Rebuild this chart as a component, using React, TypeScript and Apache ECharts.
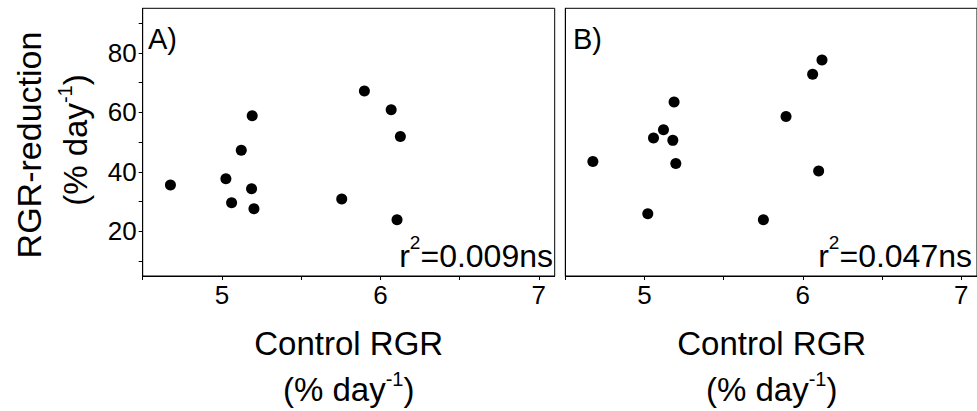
import React, { useEffect, useRef } from 'react';
import * as echarts from 'echarts';

const panelLabels = ['A)', 'B)'];
const r2Values = ['0.009ns', '0.047ns'];
const xTickValues = [4.5, 5, 5.5, 6, 6.5, 7];
const xLabelValues = [5, 6, 7];
const yTickValues = [10, 20, 30, 40, 50, 60, 70, 80, 90];
const yLabelValues = [20, 40, 60, 80];

const controlA = [4.675, 5.025, 5.061, 5.122, 5.191, 5.187, 5.202, 5.756, 5.899, 6.068, 6.126, 6.105];
const reductionA = [35.6, 37.7, 29.6, 47.3, 58.9, 34.3, 27.6, 30.9, 67.2, 60.9, 51.9, 23.9];
const controlB = [4.674, 5.057, 5.12, 5.179, 5.187, 5.198, 5.021, 5.751, 5.894, 6.062, 6.121, 6.1];
const reductionB = [43.5, 51.4, 54.2, 50.6, 63.5, 42.8, 25.9, 23.9, 58.6, 72.8, 77.6, 40.3];

const FONT = '"Liberation Sans", Arial, sans-serif';

export default function App() {
  const ref = useRef<HTMLDivElement>(null);
  useEffect(() => {
    if (!ref.current) return;
    const chart = echarts.init(ref.current, null, { renderer: 'svg' });
    const grids = [
      { left: 142.7, top: 8.3, width: 412, height: 267.7 },
      { left: 565.3, top: 8.3, width: 412.7, height: 267.7 },
    ];
    const xAxis = [0, 1].map((i) => ({
      type: 'value',
      gridIndex: i,
      min: 4.5,
      max: 7.1,
      splitLine: { show: false },
      axisLine: { show: true, onZero: false, lineStyle: { color: '#000', width: 1 } },
      axisTick: { show: true, inside: false, length: 4, customValues: xTickValues, lineStyle: { color: '#000' } },
      axisLabel: { show: true, customValues: xLabelValues, margin: 6, color: '#000', fontSize: 26, fontFamily: FONT },
    }));
    const yAxis = [0, 1].map((i) => ({
      type: 'value',
      gridIndex: i,
      min: 5,
      max: 95,
      splitLine: { show: false },
      axisLine: { show: true, onZero: false, lineStyle: { color: '#000', width: 1 } },
      axisTick: { show: i === 0, inside: false, length: 4, customValues: yTickValues, lineStyle: { color: '#000' } },
      axisLabel: { show: i === 0, customValues: yLabelValues, margin: 6, color: '#000', fontSize: 26, fontFamily: FONT },
    }));
    const mk = (xs: number[], ys: number[]) => xs.map((x, k) => [x, ys[k]]);
    const supRich = (size: number, sup: number, lh: number) => ({
      n: { fontSize: size, lineHeight: lh, fontFamily: FONT, fill: '#000', color: '#000' },
      s: { fontSize: sup, lineHeight: sup, fontFamily: FONT, fill: '#000', color: '#000', verticalAlign: 'top' },
    });
    const xTitleCenters = [348.7, 771.7];
    const graphic: any[] = [
      {
        type: 'text', x: 28.5, y: 145, rotation: Math.PI / 2,
        style: { text: 'RGR-reduction', font: `34px ${FONT}`, fill: '#000', align: 'center', verticalAlign: 'middle' },
      },
      {
        type: 'text', x: 75, y: 140, rotation: Math.PI / 2,
        style: { text: '{n|(% day}{s|-1}{n|)}', rich: supRich(33, 20, 40), fill: '#000', align: 'center', verticalAlign: 'middle' },
      },
    ];
    xTitleCenters.forEach((cx) => {
      graphic.push({
        type: 'text', x: cx, y: 343,
        style: { text: 'Control RGR', font: `33px ${FONT}`, fill: '#000', align: 'center', verticalAlign: 'middle' },
      });
      graphic.push({
        type: 'text', x: cx, y: 389,
        style: { text: '{n|(% day}{s|-1}{n|)}', rich: supRich(33, 20, 40), fill: '#000', align: 'center', verticalAlign: 'middle' },
      });
    });
    const labelX = [148, 573];
    panelLabels.forEach((t, i) => {
      graphic.push({
        type: 'text', x: labelX[i], y: 38.5,
        style: { text: t, font: `29px ${FONT}`, fill: '#000', align: 'left', verticalAlign: 'middle' },
      });
    });
    const r2X = [553, 972];
    r2Values.forEach((v, i) => {
      graphic.push({
        type: 'text', x: r2X[i], y: 256,
        style: { text: `{n|r}{s|2}{n|=${v}}`, rich: supRich(32, 19, 46), fill: '#000', align: 'right', verticalAlign: 'middle' },
      });
    });
    chart.setOption({
      animation: false,
      backgroundColor: '#fff',
      grid: grids.map((g) => ({ ...g, show: true, borderColor: '#000', borderWidth: 1, backgroundColor: 'transparent' })),
      xAxis,
      yAxis,
      series: [
        { type: 'scatter', xAxisIndex: 0, yAxisIndex: 0, data: mk(controlA, reductionA), symbolSize: 11, itemStyle: { color: '#000', opacity: 1 } },
        { type: 'scatter', xAxisIndex: 1, yAxisIndex: 1, data: mk(controlB, reductionB), symbolSize: 11, itemStyle: { color: '#000', opacity: 1 } },
      ],
      graphic,
    } as any);
    return () => chart.dispose();
  }, []);
  return <div ref={ref} style={{ position: 'absolute', left: 0, top: 0, width: 977, height: 411 }} />;
}
